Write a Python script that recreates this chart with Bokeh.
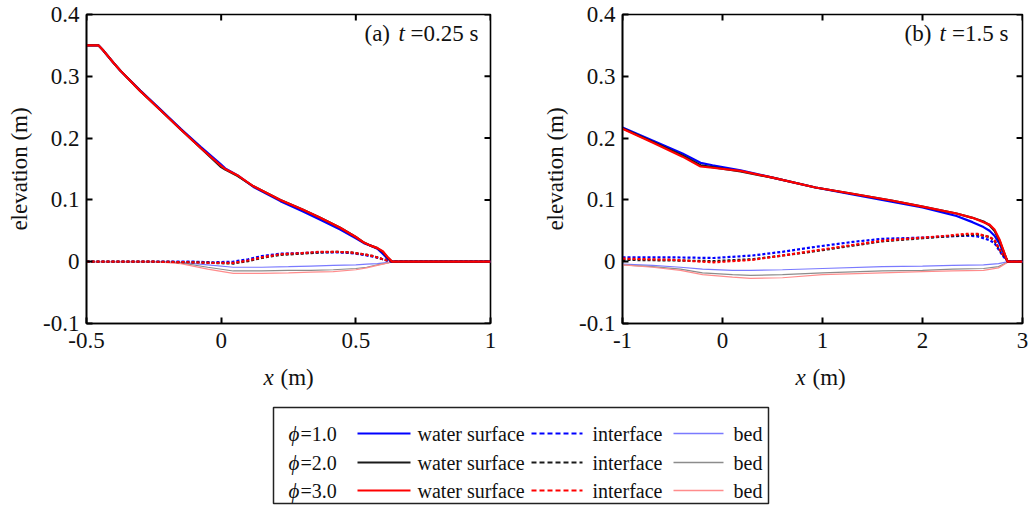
from bokeh.plotting import figure
from bokeh.layouts import column, row
from bokeh.models import Range1d, FixedTicker, Label
from bokeh.core.properties import value
from bokeh.embed import file_html
from bokeh.resources import INLINE

FONT = "Liberation Serif"

# ---------------- data: panel (a), t = 0.25 s ----------------
A_X_WS = [-0.5, -0.455, -0.44, -0.40, -0.374, -0.30, -0.225, -0.15, -0.076, 0.0, 0.015, 0.06, 0.12,
          0.22, 0.30, 0.368, 0.442, 0.50, 0.53, 0.555, 0.58, 0.60, 0.617, 0.635, 0.70, 1.0]
A_WS_1 = [0.350, 0.350, 0.343, 0.322, 0.309, 0.277, 0.246, 0.215, 0.186, 0.157, 0.151, 0.140, 0.121,
          0.098, 0.082, 0.068, 0.052, 0.038, 0.030, 0.026, 0.021, 0.013, 0.005, 0.0, 0.0, 0.0]
A_WS_2 = [0.350, 0.350, 0.343, 0.322, 0.309, 0.276, 0.245, 0.214, 0.184, 0.153, 0.149, 0.139, 0.122,
          0.100, 0.085, 0.071, 0.055, 0.040, 0.031, 0.026, 0.022, 0.016, 0.007, 0.0, 0.0, 0.0]
A_WS_3 = [0.350, 0.350, 0.343, 0.322, 0.309, 0.276, 0.245, 0.214, 0.184, 0.155, 0.150, 0.140, 0.122,
          0.100, 0.085, 0.071, 0.055, 0.040, 0.031, 0.026, 0.022, 0.017, 0.008, 0.0, 0.0, 0.0]

A_X_IF = [-0.5, -0.25, -0.10, -0.03, 0.045, 0.10, 0.15, 0.219, 0.30, 0.368, 0.43, 0.48, 0.53,
          0.565, 0.60, 0.62, 0.635, 1.0]
A_IF_1 = [0.0, 0.0, 0.000, -0.001, 0.000, 0.004, 0.009, 0.013, 0.014, 0.015, 0.015, 0.014, 0.011,
          0.008, 0.004, 0.001, 0.0, 0.0]
A_IF_2 = [0.0, 0.0, -0.001, -0.002, -0.003, 0.001, 0.006, 0.011, 0.013, 0.015, 0.016, 0.015, 0.012,
          0.009, 0.004, 0.002, 0.0, 0.0]
A_IF_3 = [0.0, 0.0, -0.001, -0.002, -0.002, 0.002, 0.007, 0.012, 0.014, 0.016, 0.016, 0.015, 0.012,
          0.009, 0.004, 0.002, 0.0, 0.0]

A_X_BED = [-0.5, -0.25, -0.15, -0.05, 0.045, 0.15, 0.25, 0.333, 0.416, 0.50, 0.54, 0.58, 0.62, 0.635, 1.0]
A_BED_1 = [0.0, 0.0, -0.001, -0.005, -0.009, -0.009, -0.008, -0.007, -0.006, -0.005, -0.004, -0.003, -0.001, 0.0, 0.0]
A_BED_2 = [0.0, 0.0, -0.002, -0.009, -0.015, -0.015, -0.014, -0.014, -0.013, -0.011, -0.009, -0.005, -0.002, 0.0, 0.0]
A_BED_3 = [0.0, 0.0, -0.003, -0.012, -0.019, -0.019, -0.018, -0.017, -0.016, -0.013, -0.010, -0.006, -0.002, 0.0, 0.0]

# ---------------- data: panel (b), t = 1.5 s ----------------
B_X_WS = [-1.0, -0.7, -0.4, -0.22, -0.1, 0.18, 0.5, 0.93, 1.3, 1.69, 2.0, 2.34, 2.5, 2.61, 2.67,
          2.72, 2.77, 2.81, 2.85, 3.0]
B_WS_1 = [0.217, 0.196, 0.175, 0.160, 0.156, 0.148, 0.136, 0.120, 0.109, 0.097, 0.088, 0.074, 0.064,
          0.056, 0.050, 0.042, 0.029, 0.015, 0.0, 0.0]
B_WS_2 = [0.216, 0.194, 0.172, 0.156, 0.153, 0.146, 0.136, 0.120, 0.110, 0.099, 0.089, 0.078, 0.071,
          0.065, 0.059, 0.050, 0.034, 0.017, 0.0, 0.0]
B_WS_3 = [0.215, 0.193, 0.170, 0.154, 0.152, 0.147, 0.136, 0.120, 0.110, 0.099, 0.089, 0.078, 0.071,
          0.064, 0.060, 0.052, 0.036, 0.018, 0.0, 0.0]

B_X_IF = [-1.0, -0.5, -0.09, 0.3, 0.6, 0.93, 1.3, 1.6, 2.0, 2.25, 2.44, 2.55, 2.67, 2.72, 2.76,
          2.81, 2.86, 3.0]
B_IF_1 = [0.007, 0.007, 0.006, 0.010, 0.016, 0.024, 0.032, 0.037, 0.039, 0.041, 0.042, 0.041, 0.035,
          0.030, 0.020, 0.008, 0.0, 0.0]
B_IF_2 = [0.003, 0.002, 0.001, 0.004, 0.010, 0.017, 0.026, 0.033, 0.038, 0.041, 0.043, 0.044, 0.040,
          0.034, 0.022, 0.010, 0.0, 0.0]
B_IF_3 = [0.005, 0.003, -0.001, 0.003, 0.010, 0.018, 0.027, 0.034, 0.039, 0.042, 0.045, 0.045, 0.040,
          0.035, 0.023, 0.010, 0.0, 0.0]

B_X_BED = [-1.0, -0.7, -0.42, -0.2, 0.1, 0.28, 0.6, 1.0, 1.6, 2.0, 2.3, 2.61, 2.76, 2.86, 3.0]
B_BED_1 = [-0.004, -0.006, -0.009, -0.012, -0.014, -0.014, -0.013, -0.011, -0.008, -0.007, -0.006,
           -0.005, -0.003, 0.0, 0.0]
B_BED_2 = [-0.005, -0.008, -0.012, -0.018, -0.021, -0.022, -0.021, -0.018, -0.015, -0.014, -0.012,
           -0.011, -0.008, 0.0, 0.0]
B_BED_3 = [-0.005, -0.009, -0.014, -0.021, -0.025, -0.027, -0.026, -0.021, -0.018, -0.016, -0.015,
           -0.014, -0.010, 0.0, 0.0]

# ---------------- ticks / labels ----------------
A_XTICKS = [-0.5, 0, 0.5, 1]
A_XLABELS = ["-0.5", "0", "0.5", "1"]
B_XTICKS = [-1, 0, 1, 2, 3]
B_XLABELS = ["-1", "0", "1", "2", "3"]
YTICKS = [-0.1, 0, 0.1, 0.2, 0.3, 0.4]
YLABELS = ["-0.1", "0", "0.1", "0.2", "0.3", "0.4"]

PHI_LABELS = ["=1.0", "=2.0", "=3.0"]
TYPE_LABELS = ["water surface", "interface", "bed"]

WS_COLORS = ["#0000ff", "#1a1a1a", "#ff0000"]
BED_COLORS = ["#7a7aff", "#8c8c8c", "#ff8c8c"]
DASH_PLOT = "3 2"
DASH_LEG = "5 3"
TXT = "#111111"

FRAME_W = 404
FRAME_H = 309
TICK_LEN = 6
TICK_W = 2


def make_panel(width, left, right, xr, xticks, xlabels, xs, ws, ifs, beds, title_parts):
    p = figure(width=width, height=360, x_range=Range1d(*xr), y_range=Range1d(-0.1, 0.4),
               output_backend="svg", toolbar_location=None,
               min_border_left=left, min_border_right=right, min_border_top=14,
               min_border_bottom=37)
    p.background_fill_color = "white"
    p.border_fill_color = "white"
    p.outline_line_color = "black"
    p.outline_line_width = 1.6
    p.xgrid.grid_line_color = None
    p.ygrid.grid_line_color = None

    for ax, ticks, labels in ((p.xaxis[0], xticks, xlabels), (p.yaxis[0], YTICKS, YLABELS)):
        ax.ticker = FixedTicker(ticks=ticks)
        ax.major_label_overrides = {t: l for t, l in zip(ticks, labels)}
        ax.minor_tick_line_color = None
        ax.major_tick_in = TICK_LEN
        ax.major_tick_out = 0
        ax.major_tick_line_width = TICK_W
        ax.major_tick_line_color = "black"
        ax.axis_line_color = "black"
        ax.axis_line_width = 1.6
        ax.major_label_text_font = FONT
        ax.major_label_text_color = TXT
        ax.major_label_text_font_size = "23px"
    p.xaxis[0].major_label_standoff = 9
    p.yaxis[0].major_label_standoff = 7
    p.yaxis[0].axis_label = "elevation (m)"
    p.yaxis[0].axis_label_text_font = FONT
    p.yaxis[0].axis_label_text_font_style = "normal"
    p.yaxis[0].axis_label_text_font_size = "23px"
    p.yaxis[0].axis_label_text_color = TXT
    p.yaxis[0].axis_label_standoff = 8

    # mirrored inward ticks on the top and right edges
    ytop = 0.4
    dy = TICK_LEN * 0.5 / FRAME_H
    dx = TICK_LEN * (xr[1] - xr[0]) / FRAME_W
    p.segment(x0=xticks, y0=[ytop] * len(xticks), x1=xticks, y1=[ytop - dy] * len(xticks),
              line_color="black", line_width=TICK_W)
    p.segment(x0=[xr[1] - dx] * len(YTICKS), y0=YTICKS, x1=[xr[1]] * len(YTICKS), y1=YTICKS,
              line_color="black", line_width=TICK_W)

    x_ws, x_if, x_bed = xs
    for i in range(3):
        p.line(x_bed, beds[i], line_color=BED_COLORS[i], line_width=1.2)
    for i in range(3):
        p.line(x_if, ifs[i], line_color=WS_COLORS[i], line_width=2.2, line_dash=DASH_PLOT)
    for i in range(3):
        p.line(x_ws, ws[i], line_color=WS_COLORS[i], line_width=2.2)

    # panel title inside the frame, top right
    x_end = xr[1]
    (pre, italic_t, post), (off_pre, off_t, off_post) = title_parts
    common = dict(y=0.4, y_offset=-19, text_font=FONT, text_font_size="23px",
                  text_color=TXT, text_baseline="alphabetic")
    p.add_layout(Label(x=x_end, x_offset=off_pre, text=pre, text_align="left", **common))
    p.add_layout(Label(x=x_end, x_offset=off_t, text=italic_t, text_align="left",
                       text_font_style="italic", **common))
    p.add_layout(Label(x=x_end, x_offset=off_post, text=post, text_align="right", **common))
    return p


pa = make_panel(540, 86, 50, (-0.5, 1.0), A_XTICKS, A_XLABELS,
                (A_X_WS, A_X_IF, A_X_BED), [A_WS_1, A_WS_2, A_WS_3],
                [A_IF_1, A_IF_2, A_IF_3], [A_BED_1, A_BED_2, A_BED_3],
                (("(a)", "t", "=0.25 s"), (-126, -92, -12)))
pb = make_panel(496, 78, 14, (-1.0, 3.0), B_XTICKS, B_XLABELS,
                (B_X_WS, B_X_IF, B_X_BED), [B_WS_1, B_WS_2, B_WS_3],
                [B_IF_1, B_IF_2, B_IF_3], [B_BED_1, B_BED_2, B_BED_3],
                (("(b)", "t", "=1.5 s"), (-118, -83, -14)))

# ---------------- bottom strip: x-axis labels and legend (page pixel coordinates) ----------------
leg = figure(width=1036, height=155, x_range=Range1d(0, 1036), y_range=Range1d(515, 360),
             output_backend="svg", toolbar_location=None,
             min_border_left=0, min_border_right=0, min_border_top=0, min_border_bottom=0)
leg.axis.visible = False
leg.grid.grid_line_color = None
leg.outline_line_color = None
leg.background_fill_color = "white"
leg.border_fill_color = "white"

# "x (m)" under each panel, with italic x
leg.text(x=[263, 795], y=[377, 377], text=["x", "x"], text_font=value(FONT),
         text_font_style="italic", text_font_size="23px", text_baseline="alphabetic",
         text_color=TXT)
leg.text(x=[280, 812], y=[377, 377], text=["(m)", "(m)"], text_font=value(FONT),
         text_font_size="23px", text_baseline="alphabetic", text_color=TXT)

leg.quad(left=[273], right=[768], top=[407], bottom=[503], fill_color=None,
         line_color="#222222", line_width=1.5)

row_y = [433, 462, 490]
leg.text(x=[288] * 3, y=row_y, text=["\u03d5"] * 3, text_font=value(FONT),
         text_font_style="italic", text_font_size="21px", text_baseline="middle",
         text_color=TXT)
leg.text(x=[300] * 3, y=row_y, text=PHI_LABELS, text_font=value(FONT),
         text_font_size="20px", text_baseline="middle", text_color=TXT)
for i in range(3):
    y = row_y[i]
    leg.line([357, 410], [y, y], line_color=WS_COLORS[i], line_width=2)
    leg.line([531, 582], [y, y], line_color=WS_COLORS[i], line_width=2, line_dash=DASH_LEG)
    leg.line([673, 723], [y, y], line_color=BED_COLORS[i], line_width=1.5)
leg.text(x=[417] * 3, y=row_y, text=[TYPE_LABELS[0]] * 3, text_font=value(FONT),
         text_font_size="20px", text_baseline="middle", text_color=TXT)
leg.text(x=[592] * 3, y=row_y, text=[TYPE_LABELS[1]] * 3, text_font=value(FONT),
         text_font_size="20px", text_baseline="middle", text_color=TXT)
leg.text(x=[762] * 3, y=row_y, text=[TYPE_LABELS[2]] * 3, text_font=value(FONT),
         text_font_size="20px", text_baseline="middle", text_align="right", text_color=TXT)

layout = column(row(pa, pb), leg)
open("out.html", "w").write(file_html(layout, INLINE))
